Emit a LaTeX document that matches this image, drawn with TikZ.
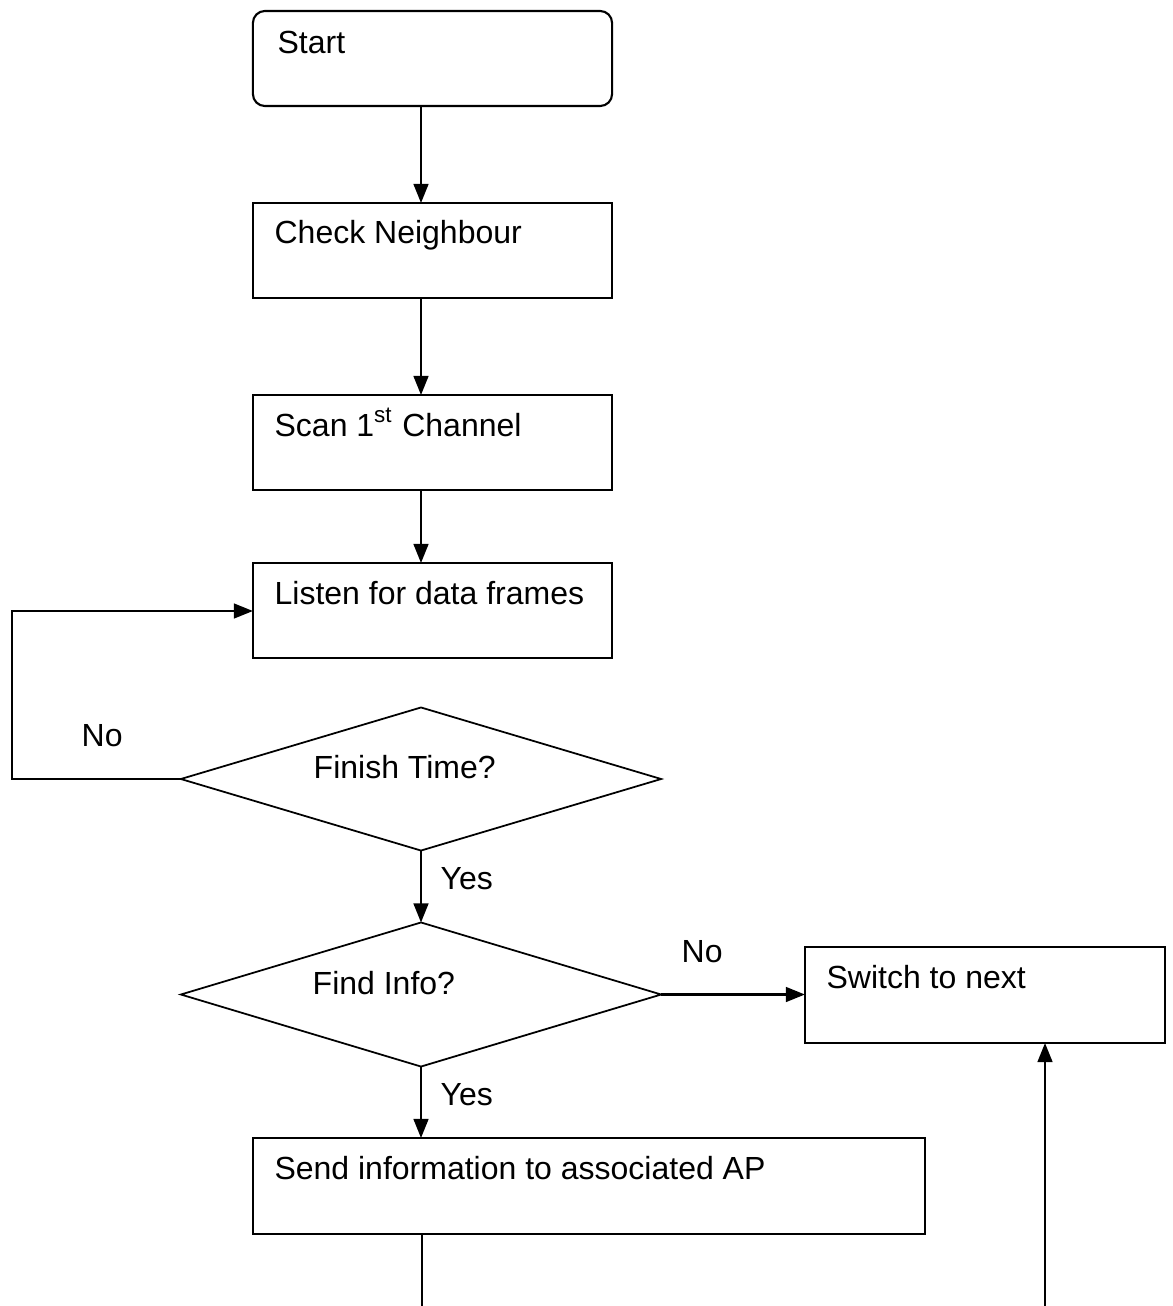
\documentclass[tikz,border=0pt]{standalone}
\usepackage{fontspec}
\setmainfont{Liberation Sans}
\usetikzlibrary{shapes.geometric,arrows.meta}
\begin{document}
\begin{tikzpicture}[
  x=0.01cm, y=-0.01cm,
  font=\fontsize{9.1pt}{11pt}\selectfont,
  boxtext/.style={anchor=base west, inner sep=0pt, xshift=0.21cm, yshift=-0.41cm},
  stepbox/.style={draw, line width=0.6pt, rectangle, inner sep=0pt, outer sep=0pt,
                  minimum width=3.59cm, minimum height=0.95cm},
  decision/.style={draw, line width=0.5pt, diamond, inner sep=0pt, outer sep=0pt,
                   minimum width=4.8cm, minimum height=1.43cm},
  txt/.style={anchor=base west, inner sep=0pt},
  flow/.style={line width=0.6pt, -{Triangle[length=5.4pt,width=4.2pt]}},
  plain/.style={line width=0.6pt}
]
\useasboundingbox (0,0) rectangle (1173,1306);

% process boxes
\node[stepbox, rounded corners=0.12cm,
      label={[boxtext, xshift=0.03cm, yshift=-0.02cm]north west:Start}] (start) at (432.5,58.5) {};
\node[stepbox, label={[boxtext]north west:Check Neighbour}] (check) at (432.5,250.5) {};
\node[stepbox, label={[boxtext]north west:Scan 1\textsuperscript{st} Channel}] (scan) at (432.5,442.5) {};
\node[stepbox, label={[boxtext]north west:Listen for data frames}] (listen) at (432.5,610.5) {};
\node[stepbox, minimum width=3.6cm, minimum height=0.96cm,
      label={[boxtext]north west:Switch to next}] (switch) at (985,995) {};
\node[stepbox, minimum width=6.72cm, minimum height=0.96cm,
      label={[boxtext]north west:Send information to associated AP}] (send) at (589,1186) {};

% decisions
\node[decision] (finish) at (421,779) {};
\node[decision, minimum height=1.44cm] (find) at (421,994.5) {};
\node[txt] (finishtxt) at (313,778) {Finish Time?};
\node[txt] (findtxt) at (312,994) {Find Info?};

% branch labels
\node[txt] (nolabA) at (81,746) {No};
\node[txt] (yeslabA) at (440,889) {Yes};
\node[txt] (nolabB) at (681,962) {No};
\node[txt] (yeslabB) at (440,1105) {Yes};

% free ends at the lower edge and the loop corner
\coordinate (looptop) at (12,611);
\coordinate (outA) at (422,1306);
\coordinate (outB) at (1045,1306);

% main flow
\draw[flow] (finish.north |- start.south) -- (finish.north |- check.north);
\draw[flow] (finish.north |- check.south) -- (finish.north |- scan.north);
\draw[flow] (finish.north |- scan.south) -- (finish.north |- listen.north);
\draw[flow] (finish.west) -- (finish.west -| looptop) -- (looptop) -- (looptop -| listen.west);
\draw[flow] (finish.south) -- (find.north);
\draw[flow] (find.east) -- (find.east -| switch.west);
\draw[flow] (find.south) -- (find.south |- send.north);
\draw[plain] (outA |- send.south) -- (outA);
\draw[flow] (outB) -- (outB |- switch.south);
\end{tikzpicture}
\end{document}
